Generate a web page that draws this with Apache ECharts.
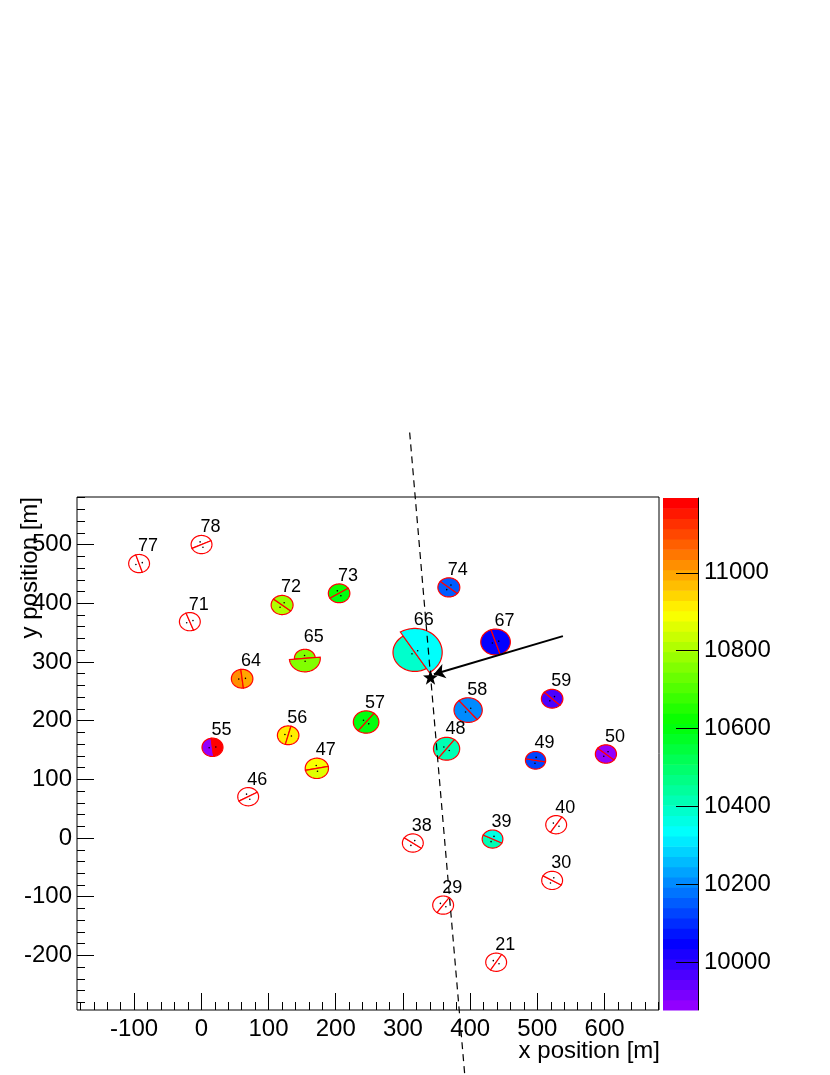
<!DOCTYPE html>
<html><head><meta charset="utf-8">
<script src="https://cdn.jsdelivr.net/npm/echarts@6/dist/echarts.min.js"></script>
<style>html,body{margin:0;padding:0;background:#fff}#c{width:830px;height:1075px}</style>
</head><body><div id="c"></div>
<script>
// ---- data ----
const stationIds = ['77','78','71','72','73','74','66','67','65','64','59','58','57','56','48','55','49','50','47','46','40','38','39','30','29','21'];
const stationX   = [-92.6, 0.3, -17.1, 120.2, 205.0, 368.3, 317.7, 437.8, 154.0, 60.7, 522.0, 397.0, 245.2, 129.2, 364.9, 16.6, 497.3, 602.0, 171.9, 69.7, 528.0, 314.7, 433.3, 522.0, 359.8, 438.7];
const stationY   = [467.6, 500.0, 368.6, 397.0, 416.9, 427.0, 316.4, 333.9, 306.1, 271.4, 237.3, 218.0, 197.6, 175.0, 152.1, 154.5, 132.4, 143.1, 118.7, 70.4, 22.7, -8.5, -1.7, -72.2, -114.3, -211.6];
const radiusA    = [15.5, 15.5, 15.5, 16.3, 16, 16.3, 32.5, 22, 15.5, 16, 16, 21, 19, 16, 19.5, 15.6, 15, 15.7, 17.3, 15.5, 15.5, 15.5, 15.4, 15.5, 15.5, 15.5];
const radiusB    = [15.5, 15.5, 15.5, 16.3, 16, 16.3, 40.7, 22, 23.0, 16, 16, 21, 19, 16, 19.5, 15.6, 15, 15.7, 17.3, 15.5, 15.5, 15.5, 15.4, 15.5, 15.5, 15.5];
const splitAngle = [108, 25, 111, 142, 32, 141, 122, 108, 5, 97, 136.5, 130, 51.7, 75, 53, 97, 170, 140.6, 11, 29, 57, 145, 154, 150, 54.5, 58];
const timeA      = [null, null, null, 10810, 10615, 10160, 10380, 10050, 10770, 11010, 9960, 10210, 10600, 10915, 10415, 9880, 10140, 9890, 10900, null, null, null, 10418, null, null, null];
const timeB      = [null, null, null, 10790, 10610, 10150, 10336, 10055, 10760, 10995, 9965, 10200, 10610, 10925, 10420, 11190, 10140, 9890, 10862, null, null, null, 10360, null, null, null];

const coreX = 341, coreY = 274;
const showerAxisX = [310, 392];
const showerAxisY = [691, -404];
const arrowTail = [538, 344];
const arrowHead = [346, 279];

const xMajorTicks = [-100, 0, 100, 200, 300, 400, 500, 600];
const yMajorTicks = [-200, -100, 0, 100, 200, 300, 400, 500];
const colorTicks  = [10000, 10200, 10400, 10600, 10800, 11000];

const xMin = -185, xMax = 681, yMin = -293, yMax = 581;
const zMin = 9878, zMax = 11192, nColors = 50;

// ---- helpers ----
function hslToRgb(h, s, l) {
  h = ((h % 360) + 360) % 360 / 360;
  const q = l < 0.5 ? l * (1 + s) : l + s - l * s;
  const p = 2 * l - q;
  function f(t) { if (t < 0) t += 1; if (t > 1) t -= 1;
    if (t < 1/6) return p + (q - p) * 6 * t;
    if (t < 1/2) return q;
    if (t < 2/3) return p + (q - p) * (2/3 - t) * 6;
    return p; }
  return 'rgb(' + Math.round(f(h + 1/3) * 255) + ',' + Math.round(f(h) * 255) + ',' + Math.round(f(h - 1/3) * 255) + ')';
}
function bandColor(i) { return hslToRgb(280 - (i + 1) * (280 / nColors), 1, 0.5); }
function timeColor(t) {
  if (t == null || t < 0) return '#ffffff';
  let i = Math.floor((t - zMin) / (zMax - zMin) * nColors);
  i = Math.max(0, Math.min(nColors - 1, i));
  return bandColor(i);
}
function range(a, b, s) { const r = []; for (let v = a; v <= b + 1e-9; v += s) r.push(v); return r; }
const xMinorTicks = range(-180, 680, 20);
const yMinorTicks = range(-280, 580, 20);

const FONT = 'Liberation Sans, Arial, Helvetica, sans-serif';
const plain = v => String(Math.round(v));

const stationData = stationIds.map((id, i) => [stationX[i], stationY[i], radiusA[i], radiusB[i], splitAngle[i],
  timeA[i] == null ? -1 : timeA[i], timeB[i] == null ? -1 : timeB[i], i]);

function renderStation(params, api) {
  const x = api.value(0), y = api.value(1);
  const rA = api.value(2), rB = api.value(3), ang = api.value(4) * Math.PI / 180;
  const tA = api.value(5), tB = api.value(6), idx = api.value(7);
  const children = [];
  const halves = [[rA, tA, 0], [rB, tB, Math.PI]];
  halves.sort((a, b) => a[0] - b[0]);
  halves.forEach(h => {
    const r = h[0], start = ang + h[2];
    const pts = [];
    const N = 48;
    for (let k = 0; k <= N; k++) {
      const phi = start + Math.PI * k / N;
      pts.push(api.coord([x + r * Math.cos(phi), y + r * Math.sin(phi)]));
    }
    children.push({ type: 'polygon', shape: { points: pts },
      style: { fill: timeColor(h[1]), stroke: '#ff0000', lineWidth: 1.2 } });
  });
  [1, -1].forEach(sgn => {
    const n = ang + sgn * Math.PI / 2;
    const p = api.coord([x + 5 * Math.cos(n), y + 5 * Math.sin(n)]);
    children.push({ type: 'circle', shape: { cx: p[0], cy: p[1], r: 0.8 }, style: { fill: '#000' } });
  });
  const c = api.coord([x, y]);
  const top = api.coord([x, y + Math.max(rA, rB)]);
  children.push({ type: 'text', x: c[0] + 9, y: top[1] - 8,
    style: { text: stationIds[idx], fill: '#000', font: '18px ' + FONT, align: 'center', verticalAlign: 'middle' } });
  return { type: 'group', children };
}

function renderBand(params, api) {
  const i = api.value(0);
  const bw = (zMax - zMin) / nColors;
  const lo = zMin + i * bw, hi = lo + bw;
  const p1 = api.coord([0, hi]), p2 = api.coord([1, lo]);
  return { type: 'rect', shape: { x: p1[0], y: p1[1], width: p2[0] - p1[0], height: p2[1] - p1[1] + 0.6 },
    style: { fill: bandColor(i) } };
}

const chart = echarts.init(document.getElementById('c'), null, { renderer: 'canvas' });
const tickStyle = { color: '#000', width: 1 };
chart.setOption({
  backgroundColor: '#ffffff',
  animation: false,
  grid: [
    { left: 77, top: 497, width: 582, height: 513, show: true, borderColor: '#000', borderWidth: 1, backgroundColor: 'transparent' },
    { left: 663, top: 498, width: 35, height: 512 }
  ],
  xAxis: [
    { gridIndex: 0, type: 'value', min: xMin, max: xMax, position: 'bottom',
      axisLine: { show: false, onZero: false }, splitLine: { show: false },
      axisTick: { show: true, inside: true, length: 17, customValues: xMajorTicks, lineStyle: tickStyle },
      axisLabel: { show: true, customValues: xMajorTicks, formatter: plain, color: '#000', fontSize: 24, fontFamily: FONT, margin: 7 } },
    { gridIndex: 0, type: 'value', min: xMin, max: xMax, position: 'bottom',
      axisLine: { show: false, onZero: false }, splitLine: { show: false },
      axisTick: { show: true, inside: true, length: 8, customValues: xMinorTicks, lineStyle: tickStyle },
      axisLabel: { show: false } },
    { gridIndex: 1, type: 'value', min: 0, max: 1, show: false, axisLine: { onZero: false } }
  ],
  yAxis: [
    { gridIndex: 0, type: 'value', min: yMin, max: yMax, position: 'left',
      axisLine: { show: false, onZero: false }, splitLine: { show: false },
      axisTick: { show: true, inside: true, length: 17, customValues: yMajorTicks, lineStyle: tickStyle },
      axisLabel: { show: true, customValues: yMajorTicks, formatter: plain, color: '#000', fontSize: 24, fontFamily: FONT, margin: 5 } },
    { gridIndex: 0, type: 'value', min: yMin, max: yMax, position: 'left',
      axisLine: { show: false, onZero: false }, splitLine: { show: false },
      axisTick: { show: true, inside: true, length: 8, customValues: yMinorTicks, lineStyle: tickStyle },
      axisLabel: { show: false } },
    { gridIndex: 1, type: 'value', min: zMin, max: zMax, position: 'right', z: 10,
      axisLine: { show: true, onZero: false, lineStyle: { color: '#000', width: 1 } }, splitLine: { show: false },
      axisTick: { show: true, inside: true, length: 22, customValues: colorTicks, lineStyle: tickStyle },
      axisLabel: { show: true, customValues: colorTicks, formatter: plain, color: '#000', fontSize: 24, fontFamily: FONT, margin: 6 } }
  ],
  series: [
    { type: 'custom', name: 'palette', xAxisIndex: 2, yAxisIndex: 2, z: 1,
      data: Array.from({ length: nColors }, (_, i) => [i]), renderItem: renderBand, silent: true },
    { type: 'custom', name: 'stations', xAxisIndex: 0, yAxisIndex: 0, z: 2,
      data: stationData, renderItem: renderStation, clip: false, silent: true },
    { type: 'line', name: 'axis', xAxisIndex: 0, yAxisIndex: 0, z: 3, clip: false, symbol: 'none', silent: true,
      data: showerAxisX.map((v, i) => [v, showerAxisY[i]]),
      lineStyle: { color: '#000', width: 1.2, type: [7, 5] } },
    { type: 'lines', name: 'dir', coordinateSystem: 'cartesian2d', xAxisIndex: 0, yAxisIndex: 0, z: 4,
      symbol: ['none', 'arrow'], symbolSize: 11, silent: true,
      lineStyle: { color: '#000', width: 2, opacity: 1, curveness: 0 },
      data: [{ coords: [arrowTail, arrowHead] }] },
    { type: 'scatter', name: 'core', xAxisIndex: 0, yAxisIndex: 0, z: 5, silent: true,
      symbol: 'path://M0,-10 L2.35,-3.24 L9.51,-3.09 L3.8,1.24 L5.88,8.09 L0,4 L-5.88,8.09 L-3.8,1.24 L-9.51,-3.09 L-2.35,-3.24 Z',
      symbolSize: 15, itemStyle: { color: '#000', opacity: 1 }, data: [[coreX, coreY]] }
  ],
  graphic: [
    { type: 'text', right: 830 - 660, top: 1039, z: 10,
      style: { text: 'x position [m]', fill: '#000', font: '24px ' + FONT } },
    { type: 'text', x: 30, y: 497, rotation: Math.PI / 2, z: 10,
      style: { text: 'y position [m]', fill: '#000', font: '24px ' + FONT, align: 'right', verticalAlign: 'middle' } }
  ]
});
</script></body></html>
